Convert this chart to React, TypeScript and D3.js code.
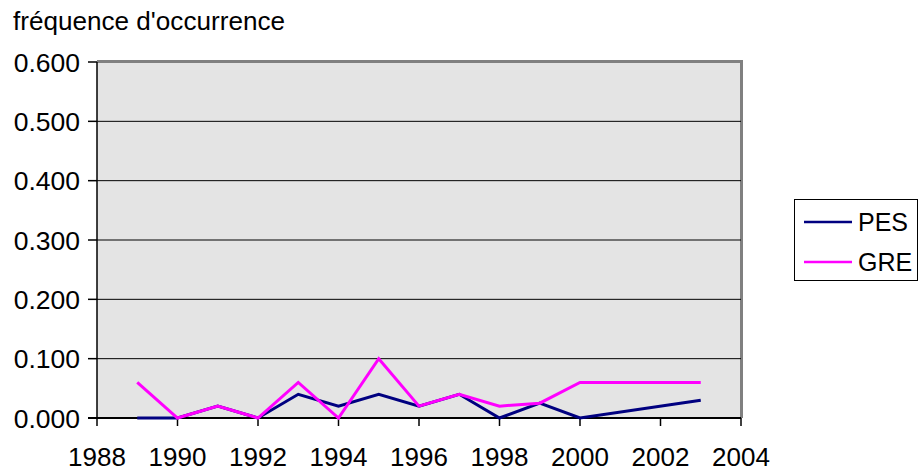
import React from 'react';
import * as d3 from 'd3';

const years = [1989, 1990, 1991, 1992, 1993, 1994, 1995, 1996, 1997, 1998, 1999, 2000, 2003];
const pesValues = [0, 0, 0.02, 0, 0.04, 0.02, 0.04, 0.02, 0.04, 0, 0.025, 0, 0.03];
const greValues = [0.06, 0, 0.02, 0, 0.06, 0, 0.1, 0.02, 0.04, 0.02, 0.025, 0.06, 0.06];
const xTicks = [1988, 1990, 1992, 1994, 1996, 1998, 2000, 2002, 2004];
const yTicks = [0, 0.1, 0.2, 0.3, 0.4, 0.5, 0.6];

const series = [
  { name: 'PES', color: '#000080', values: pesValues },
  { name: 'GRE', color: '#ff00ff', values: greValues },
];

const FONT = '"Liberation Sans", Arial, sans-serif';

export default function App() {
  const width = 920;
  const height = 472;
  const left = 97;
  const right = 741;
  const top = 62;
  const bottom = 418;

  const x = d3.scaleLinear().domain([1988, 2004]).range([left, right]);
  const y = d3.scaleLinear().domain([0, 0.6]).range([bottom, top]);

  const line = d3
    .line<[number, number]>()
    .x(d => x(d[0]))
    .y(d => y(d[1]));

  return (
    <svg
      width={width}
      height={height}
      style={{ position: 'absolute', left: 0, top: 0, background: '#fff' }}
      fontFamily={FONT}
    >
      <text x={13} y={30} fontSize={25} fill="#000" textLength={272} lengthAdjust="spacingAndGlyphs">
        fréquence d'occurrence
      </text>

      {/* plot area */}
      <rect x={left} y={top} width={right - left} height={bottom - top} fill="#e4e4e4" />
      <line x1={left} x2={right + 1} y1={top - 0.5} y2={top - 0.5} stroke="#808080" strokeWidth={3} />
      <line x1={right + 0.5} x2={right + 0.5} y1={top - 2} y2={bottom} stroke="#808080" strokeWidth={3} />

      {/* gridlines */}
      {yTicks.slice(1, -1).map(t => (
        <line key={t} x1={left} x2={right} y1={y(t)} y2={y(t)} stroke="#000" strokeWidth={1} />
      ))}

      {/* y axis */}
      <line x1={left} x2={left} y1={top} y2={bottom + 1} stroke="#000" strokeWidth={1.5} />
      {yTicks.map(t => (
        <g key={t}>
          <line x1={left - 9} x2={left} y1={y(t)} y2={y(t)} stroke="#000" strokeWidth={1.5} />
          <text x={80} y={y(t)} dy="0.36em" textAnchor="end" fontSize={26.5} fill="#000">
            {d3.format('.3f')(t)}
          </text>
        </g>
      ))}

      {/* x axis */}
      <line x1={left - 9} x2={right} y1={bottom} y2={bottom} stroke="#000" strokeWidth={2} />
      {xTicks.map(t => (
        <g key={t}>
          <line x1={x(t)} x2={x(t)} y1={bottom} y2={bottom + 8} stroke="#000" strokeWidth={1.5} />
          <text x={x(t)} y={466} textAnchor="middle" fontSize={26} fill="#000">
            {t}
          </text>
        </g>
      ))}

      {/* series */}
      {series.map(s => (
        <path
          key={s.name}
          d={line(years.map((yr, i) => [yr, s.values[i]] as [number, number])) || ''}
          fill="none"
          stroke={s.color}
          strokeWidth={3}
          strokeLinejoin="miter"
        />
      ))}

      {/* legend */}
      <rect x={794.5} y={199.5} width={123} height={81} fill="#fff" stroke="#000" strokeWidth={1} />
      {series.map((s, i) => (
        <g key={s.name}>
          <line x1={804} x2={852} y1={222 + i * 40} y2={222 + i * 40} stroke={s.color} strokeWidth={2.5} />
          <text x={858} y={222 + i * 40} dy="0.36em" fontSize={25} fill="#000">
            {s.name}
          </text>
        </g>
      ))}
    </svg>
  );
}
